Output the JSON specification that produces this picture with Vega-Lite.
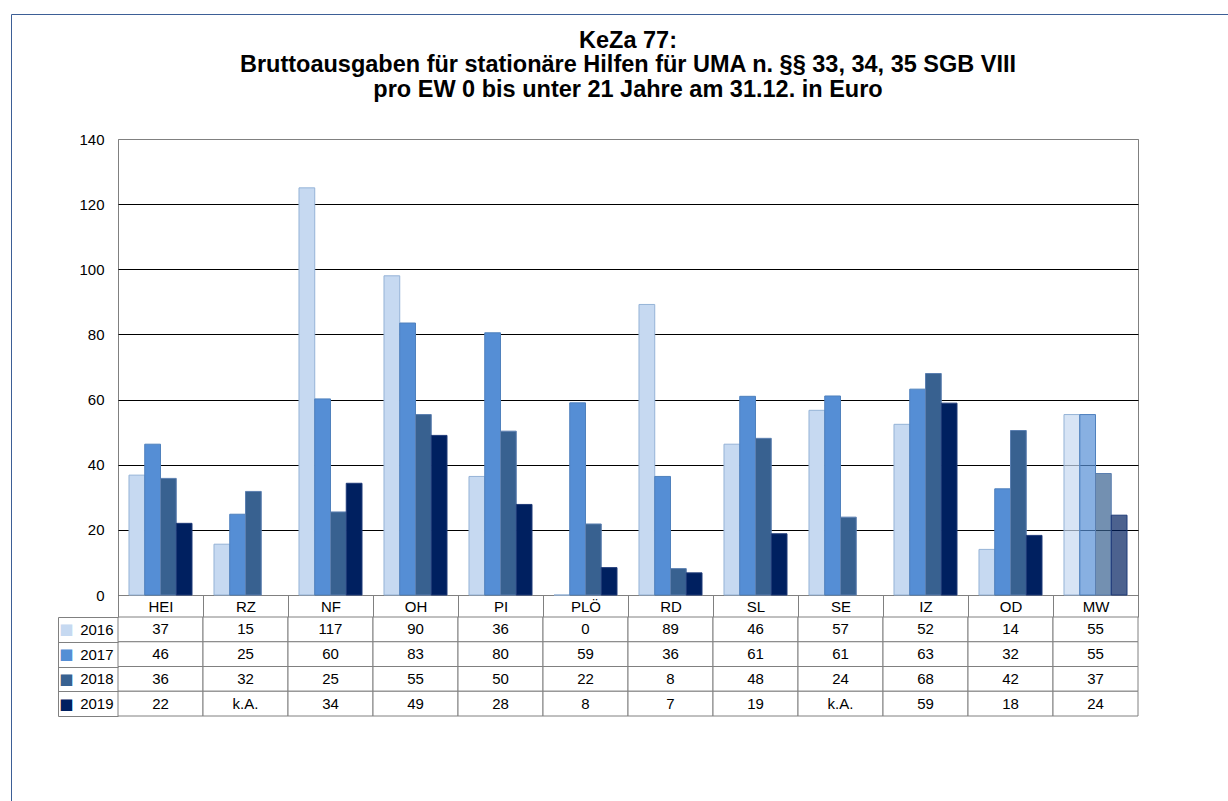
{
  "$schema": "https://vega.github.io/schema/vega-lite/v6.json",
  "padding": {"left": 10, "top": 13, "right": 0, "bottom": 0},
  "background": "white",
  "spacing": 22,
  "bounds": "flush",
  "config": {"font": "Liberation Sans", "view": {"stroke": null}},
  "datasets": {
    "d": [
      {"kreis": "HEI", "jahr": "2016", "wert": 36.8, "label": "37"},
      {"kreis": "HEI", "jahr": "2017", "wert": 46.3, "label": "46"},
      {"kreis": "HEI", "jahr": "2018", "wert": 35.8, "label": "36"},
      {"kreis": "HEI", "jahr": "2019", "wert": 22.0, "label": "22"},
      {"kreis": "RZ", "jahr": "2016", "wert": 15.6, "label": "15"},
      {"kreis": "RZ", "jahr": "2017", "wert": 24.8, "label": "25"},
      {"kreis": "RZ", "jahr": "2018", "wert": 31.8, "label": "32"},
      {"kreis": "RZ", "jahr": "2019", "wert": null, "label": "k.A."},
      {"kreis": "NF", "jahr": "2016", "wert": 125.0, "label": "117"},
      {"kreis": "NF", "jahr": "2017", "wert": 60.2, "label": "60"},
      {"kreis": "NF", "jahr": "2018", "wert": 25.5, "label": "25"},
      {"kreis": "NF", "jahr": "2019", "wert": 34.3, "label": "34"},
      {"kreis": "OH", "jahr": "2016", "wert": 98.0, "label": "90"},
      {"kreis": "OH", "jahr": "2017", "wert": 83.5, "label": "83"},
      {"kreis": "OH", "jahr": "2018", "wert": 55.4, "label": "55"},
      {"kreis": "OH", "jahr": "2019", "wert": 49.0, "label": "49"},
      {"kreis": "PI", "jahr": "2016", "wert": 36.4, "label": "36"},
      {"kreis": "PI", "jahr": "2017", "wert": 80.5, "label": "80"},
      {"kreis": "PI", "jahr": "2018", "wert": 50.3, "label": "50"},
      {"kreis": "PI", "jahr": "2019", "wert": 27.8, "label": "28"},
      {"kreis": "PLÖ", "jahr": "2016", "wert": 0, "label": "0"},
      {"kreis": "PLÖ", "jahr": "2017", "wert": 59.0, "label": "59"},
      {"kreis": "PLÖ", "jahr": "2018", "wert": 21.8, "label": "22"},
      {"kreis": "PLÖ", "jahr": "2019", "wert": 8.4, "label": "8"},
      {"kreis": "RD", "jahr": "2016", "wert": 89.2, "label": "89"},
      {"kreis": "RD", "jahr": "2017", "wert": 36.4, "label": "36"},
      {"kreis": "RD", "jahr": "2018", "wert": 8.1, "label": "8"},
      {"kreis": "RD", "jahr": "2019", "wert": 6.8, "label": "7"},
      {"kreis": "SL", "jahr": "2016", "wert": 46.3, "label": "46"},
      {"kreis": "SL", "jahr": "2017", "wert": 61.0, "label": "61"},
      {"kreis": "SL", "jahr": "2018", "wert": 48.1, "label": "48"},
      {"kreis": "SL", "jahr": "2019", "wert": 18.8, "label": "19"},
      {"kreis": "SE", "jahr": "2016", "wert": 56.7, "label": "57"},
      {"kreis": "SE", "jahr": "2017", "wert": 61.1, "label": "61"},
      {"kreis": "SE", "jahr": "2018", "wert": 23.9, "label": "24"},
      {"kreis": "SE", "jahr": "2019", "wert": null, "label": "k.A."},
      {"kreis": "IZ", "jahr": "2016", "wert": 52.4, "label": "52"},
      {"kreis": "IZ", "jahr": "2017", "wert": 63.2, "label": "63"},
      {"kreis": "IZ", "jahr": "2018", "wert": 68.0, "label": "68"},
      {"kreis": "IZ", "jahr": "2019", "wert": 58.9, "label": "59"},
      {"kreis": "OD", "jahr": "2016", "wert": 14.0, "label": "14"},
      {"kreis": "OD", "jahr": "2017", "wert": 32.6, "label": "32"},
      {"kreis": "OD", "jahr": "2018", "wert": 50.5, "label": "42"},
      {"kreis": "OD", "jahr": "2019", "wert": 18.3, "label": "18"},
      {"kreis": "MW", "jahr": "2016", "wert": 55.4, "label": "55"},
      {"kreis": "MW", "jahr": "2017", "wert": 55.4, "label": "55"},
      {"kreis": "MW", "jahr": "2018", "wert": 37.3, "label": "37"},
      {"kreis": "MW", "jahr": "2019", "wert": 24.5, "label": "24"}
    ]
  },
  "vconcat": [
    {
      "title": {
        "text": ["KeZa 77:", "Bruttoausgaben für stationäre Hilfen für UMA n. §§ 33, 34, 35 SGB VIII", "pro EW 0 bis unter 21 Jahre am 31.12. in Euro"],
        "font": "Liberation Sans", "fontSize": 23.5, "fontWeight": "bold", "color": "black",
        "lineHeight": 24.5, "anchor": "middle", "offset": 31, "frame": "group"
      },
      "width": 1020,
      "height": 456,
      "view": {"stroke": "#808080", "strokeWidth": 1},
      "data": {"name": "d"},
      "mark": {"type": "bar", "strokeWidth": 1},
      "encoding": {
        "x": {
          "field": "kreis", "type": "nominal",
          "sort": ["HEI", "RZ", "NF", "OH", "PI", "PLÖ", "RD", "SL", "SE", "IZ", "OD", "MW"],
          "scale": {"paddingInner": 0, "paddingOuter": 0},
          "axis": {
            "title": null, "orient": "bottom", "labelAngle": 0, "labelFontSize": 15, "labelColor": "black",
            "labelFont": "Liberation Sans", "tickBand": "extent", "tickSize": 22, "tickColor": "#808080",
            "domainColor": "#808080", "labelPadding": -11, "labelBaseline": "middle", "grid": false
          }
        },
        "xOffset": {"field": "jahr", "type": "nominal", "sort": ["2016", "2017", "2018", "2019"], "scale": {"paddingInner": 0, "paddingOuter": 0.698}},
        "y": {
          "field": "wert", "type": "quantitative",
          "scale": {"domain": [0, 140], "nice": false},
          "axis": {
            "title": null, "values": [0, 20, 40, 60, 80, 100, 120, 140], "grid": true,
            "gridColor": {"condition": {"test": "datum.value === 140", "value": "#808080"}, "value": "#000000"},
            "ticks": false, "domain": false, "labelFontSize": 15, "labelPadding": 14, "labelColor": "black",
            "labelFont": "Liberation Sans"
          }
        },
        "color": {
          "field": "jahr", "type": "nominal", "sort": ["2016", "2017", "2018", "2019"],
          "scale": {"range": ["#c6d9f1", "#558ed5", "#386190", "#002060"]}, "legend": null
        },
        "stroke": {
          "field": "jahr", "type": "nominal", "sort": ["2016", "2017", "2018", "2019"],
          "scale": {"range": ["#95b3d7", "#4f81bd", "#5b7fb0", "#1f3a78"]}, "legend": null
        },
        "fillOpacity": {"condition": {"test": "datum.kreis === 'MW'", "value": 0.7}, "value": 1},
        "opacity": {
          "datum": "Rahmen", "type": "nominal", "scale": {"range": [1]},
          "legend": {
            "orient": "none", "legendX": -107, "legendY": -125, "padding": 800,
            "strokeColor": "#3d5f96", "title": null,
            "labelExpr": "''", "symbolOpacity": 0, "symbolSize": 0, "symbolStrokeWidth": 0,
            "symbolFillColor": "transparent", "symbolStrokeColor": "transparent"
          }
        }
      }
    },
    {
      "width": 1020,
      "height": 99,
      "data": {"name": "d"},
      "encoding": {
        "x": {
          "field": "kreis", "type": "nominal",
          "sort": ["HEI", "RZ", "NF", "OH", "PI", "PLÖ", "RD", "SL", "SE", "IZ", "OD", "MW"],
          "scale": {"padding": 0}, "axis": null
        }
      },
      "layer": [
        {
          "mark": {"type": "rect", "fill": "white", "stroke": "#808080", "strokeWidth": 1},
          "encoding": {
            "y": {
              "field": "jahr", "type": "nominal", "sort": ["2016", "2017", "2018", "2019"],
              "scale": {"padding": 0},
              "axis": {
                "title": null, "orient": "left", "labelFontSize": 15, "labelColor": "black", "labelFont": "Liberation Sans",
                "tickBand": "extent", "tickSize": 60, "tickColor": "#808080", "ticks": true,
                "labelPadding": -55, "domain": false, "grid": false
              }
            }
          }
        },
        {
          "mark": {"type": "text", "fontSize": 15, "color": "black", "font": "Liberation Sans"},
          "encoding": {
            "y": {
              "field": "jahr", "type": "nominal", "sort": ["2016", "2017", "2018", "2019"],
              "axis": {
                "title": null, "orient": "left", "labelExpr": "'■'", "labelFontSize": 15, "labelFont": "DejaVu Sans",
                "ticks": false, "domain": true, "domainColor": "#808080", "offset": 60, "labelPadding": -15, "grid": false,
                "labelColor": {
                  "condition": [
                    {"test": "datum.value === '2016'", "value": "#c6d9f1"},
                    {"test": "datum.value === '2017'", "value": "#558ed5"},
                    {"test": "datum.value === '2018'", "value": "#386190"}
                  ],
                  "value": "#002060"
                }
              }
            },
            "text": {"field": "label", "type": "nominal"}
          }
        }
      ],
      "resolve": {"axis": {"y": "independent"}}
    }
  ]
}
